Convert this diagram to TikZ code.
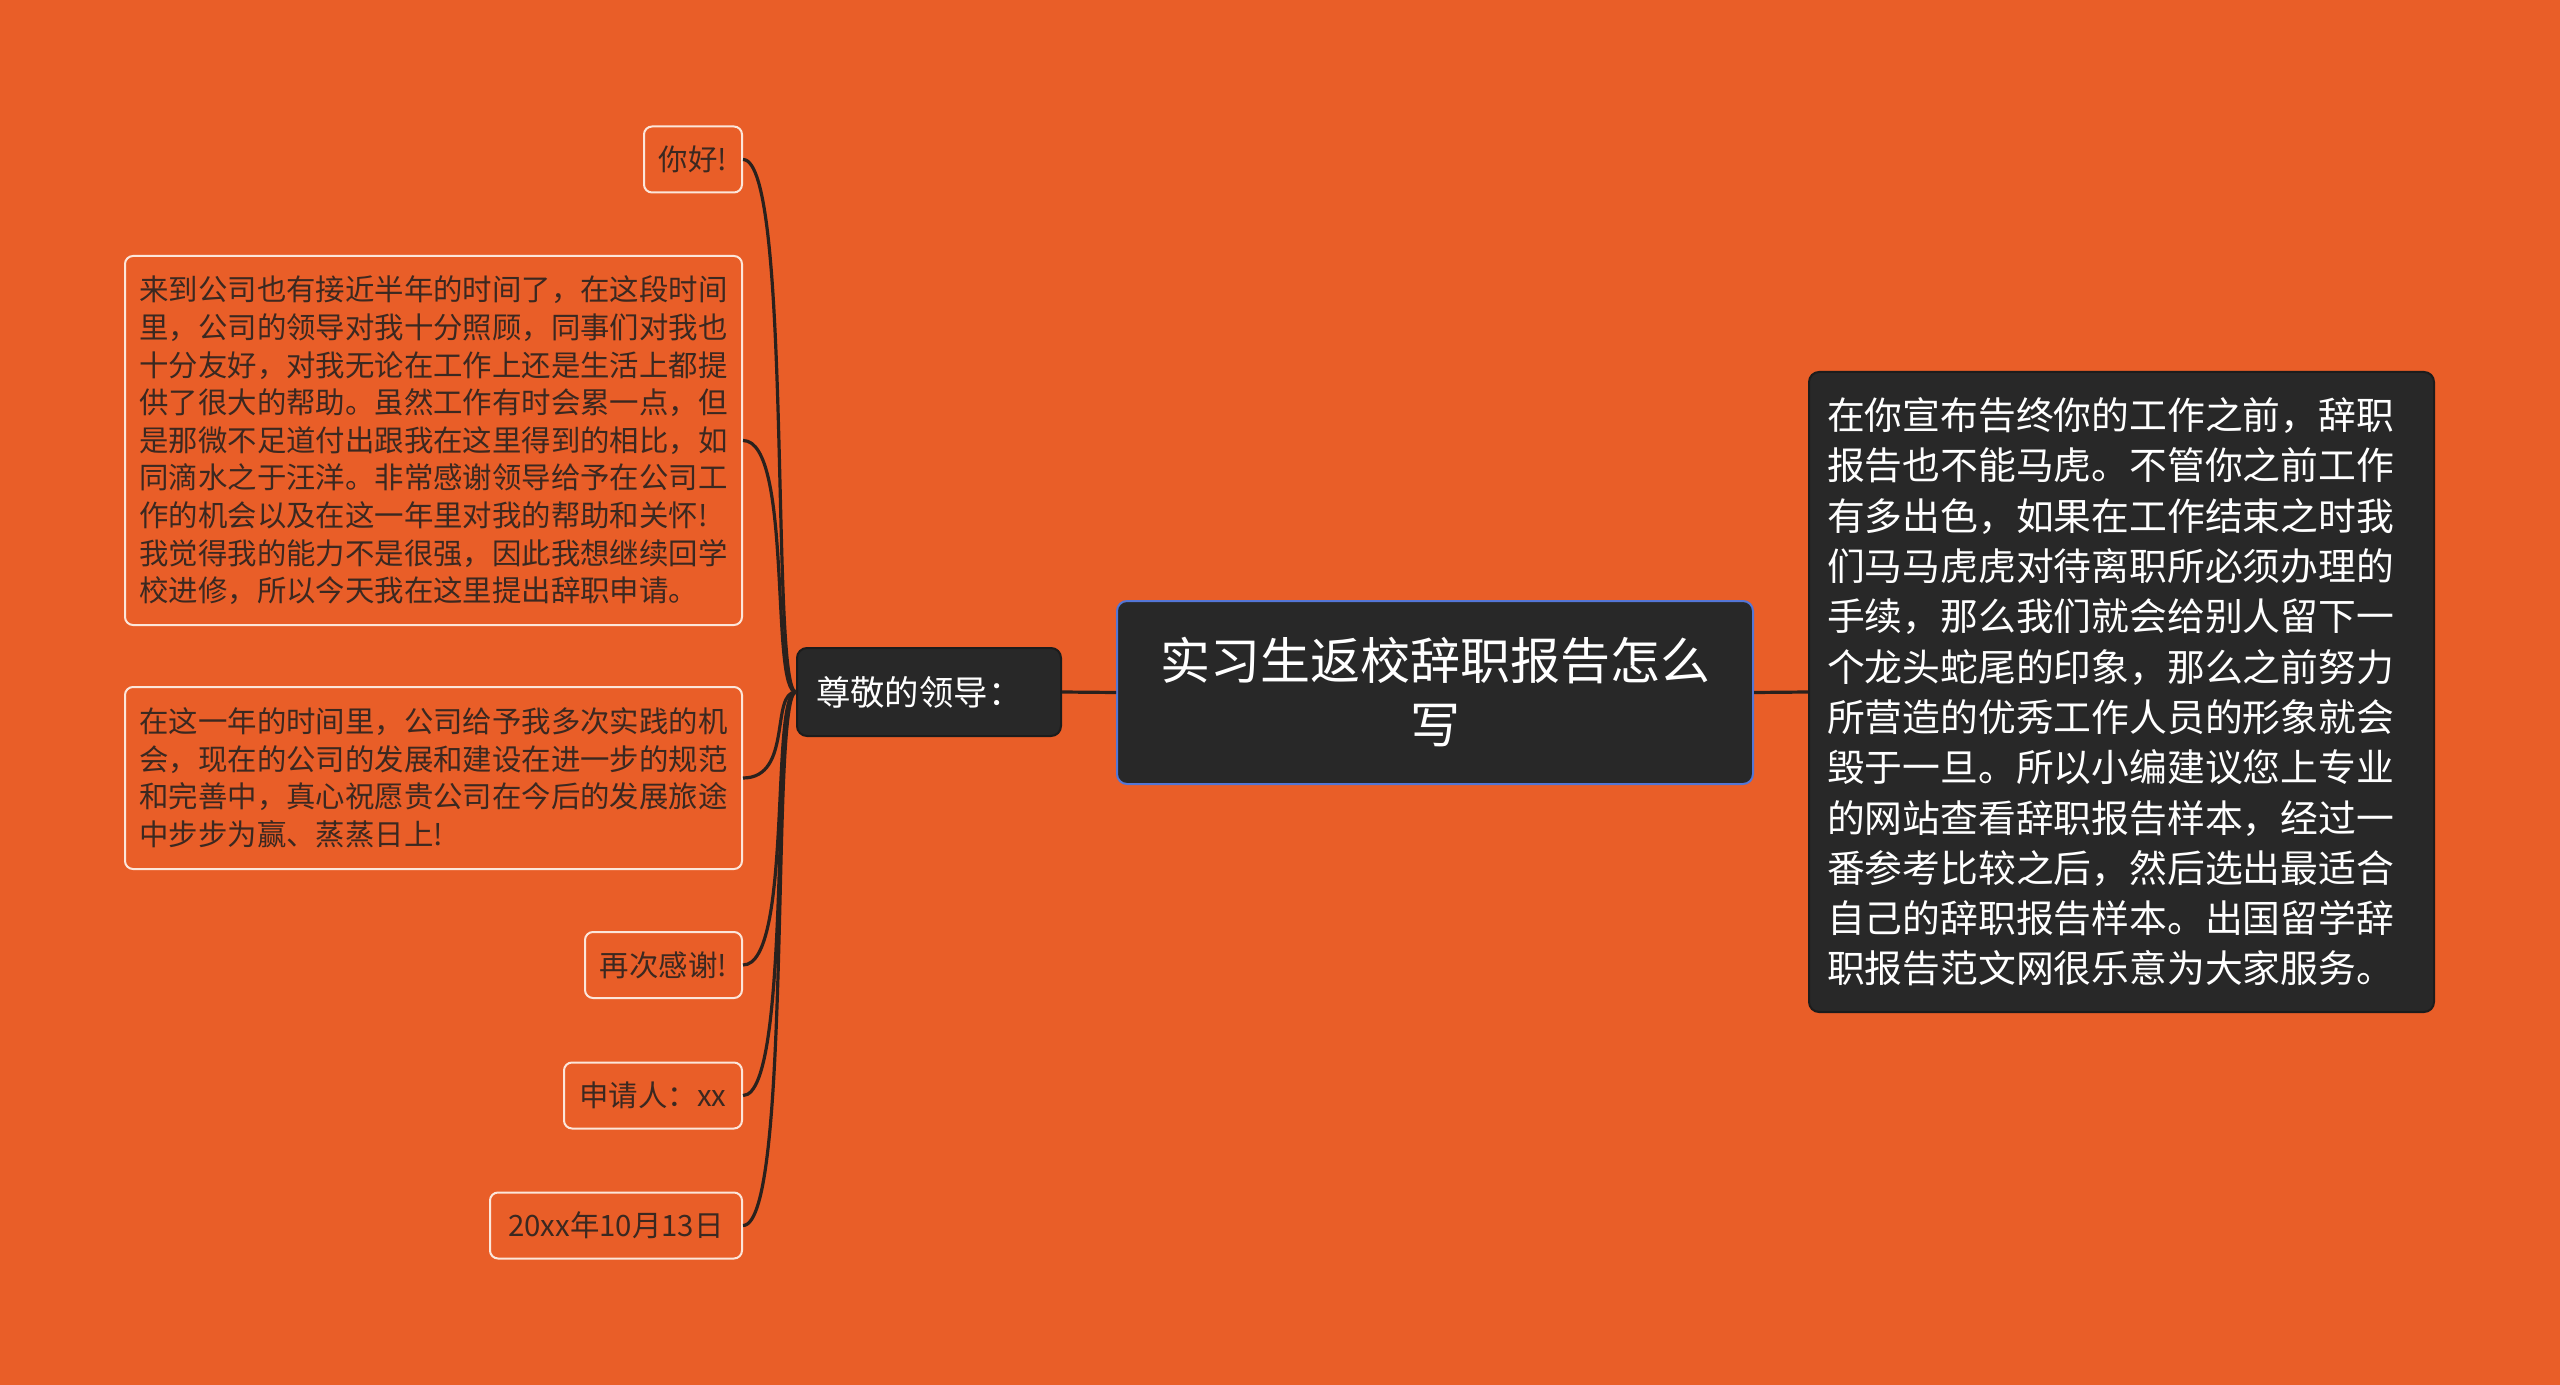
\documentclass[tikz,border=0pt]{standalone}
\usepackage{fontspec}
\setmainfont{Noto Sans CJK SC}
\definecolor{bg}{HTML}{E95E28}
\definecolor{boxfill}{HTML}{282828}
\definecolor{boxline}{HTML}{1C1C1C}
\definecolor{rootline}{HTML}{5476D6}
\definecolor{leafline}{HTML}{FCE6DA}
\definecolor{leaftext}{HTML}{3B2820}
\definecolor{wire}{HTML}{2A211D}

\begin{document}
\begin{tikzpicture}[x=0.5pt,y=-0.5pt,
	leaf/.style={draw=leafline, line width=1pt, fill=bg, rounded corners=4pt, anchor=east, text=leaftext,
		inner sep=0pt, minimum height=33pt, align=left, font=\fontsize{14.7pt}{18.8pt}\selectfont},
	darkbox/.style={draw=boxline, line width=1pt, fill=boxfill, rounded corners=5pt, text=white, inner sep=0pt},
	wire/.style={draw=wire, line width=1.6pt},
	branch/.style={to path={.. controls +(-26,0) and +(50,0) .. (\tikztotarget)}}]
	\fill[bg] (0,0) rectangle (2560,1385);
	\useasboundingbox (0,0) rectangle (2560,1385);

	\node[darkbox, draw=rootline, minimum width=318pt, minimum height=91.5pt, align=center,
		font=\fontsize{25pt}{32pt}\selectfont] (root) at (1435,692.5) {实习生返校辞职报告怎么\\写};
	\node[darkbox, minimum height=44pt, inner xsep=9.5pt, text width=113pt, align=left,
		font=\fontsize{17.2pt}{20pt}\selectfont] (sub) at (929,692) {尊敬的领导：};
	\node[darkbox, minimum height=320pt, inner xsep=9pt, text width=294.5pt, align=left,
		font=\fontsize{18.9pt}{25.15pt}\selectfont] (info) at (2121.5,692) {在你宣布告终你的工作之前，辞职\\
		报告也不能马虎。不管你之前工作\\
		有多出色，如果在工作结束之时我\\
		们马马虎虎对待离职所必须办理的\\
		手续，那么我们就会给别人留下一\\
		个龙头蛇尾的印象，那么之前努力\\
		所营造的优秀工作人员的形象就会\\
		毁于一旦。所以小编建议您上专业\\
		的网站查看辞职报告样本，经过一\\
		番参考比较之后，然后选出最适合\\
		自己的辞职报告样本。出国留学辞\\
		职报告范文网很乐意为大家服务。};

	\node[leaf, minimum width=49pt] (1) at (743,159.5) {你好!};
	\node[leaf, minimum width=308.5pt, minimum height=184.5pt] (2) at (743,440.5) {来到公司也有接近半年的时间了，在这段时间\\
		里，公司的领导对我十分照顾，同事们对我也\\
		十分友好，对我无论在工作上还是生活上都提\\
		供了很大的帮助。虽然工作有时会累一点，但\\
		是那微不足道付出跟我在这里得到的相比，如\\
		同滴水之于汪洋。非常感谢领导给予在公司工\\
		作的机会以及在这一年里对我的帮助和关怀!\\
		我觉得我的能力不是很强，因此我想继续回学\\
		校进修，所以今天我在这里提出辞职申请。};
	\node[leaf, minimum width=308.5pt, minimum height=91pt] (3) at (743,778) {在这一年的时间里，公司给予我多次实践的机\\
		会，现在的公司的发展和建设在进一步的规范\\
		和完善中，真心祝愿贵公司在今后的发展旅途\\
		中步步为赢、蒸蒸日上!};
	\node[leaf, minimum width=78.5pt] (4) at (743,965) {再次感谢!};
	\node[leaf, minimum width=89pt] (5) at (743,1095.5) {申请人：xx};
	\node[leaf, minimum width=126pt] (6) at (743,1225.5) {20xx年10月13日};

	\path[wire] (root.west) edge (sub.east);
	\path[wire] (root.east) edge (info.west);

	\path[wire] (sub.west) edge[branch] (1.east);
	\path[wire] (sub.west) edge[branch] (2.east);
	\path[wire] (sub.west) edge[branch] (3.east);
	\path[wire] (sub.west) edge[branch] (4.east);
	\path[wire] (sub.west) edge[branch] (5.east);
	\path[wire] (sub.west) edge[branch] (6.east);
\end{tikzpicture}
\end{document}
